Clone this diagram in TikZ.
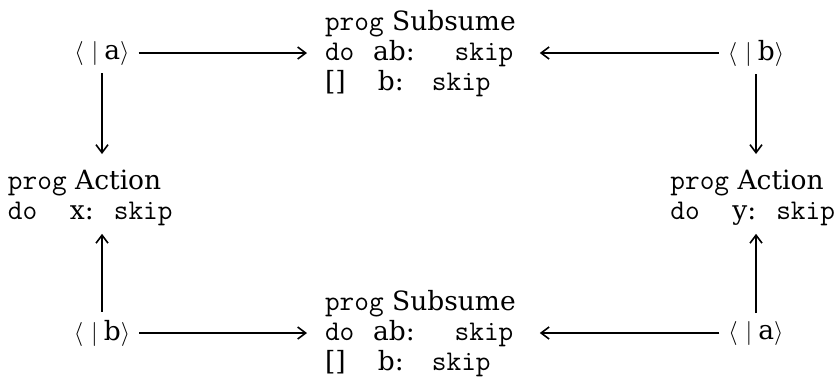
\documentclass[tikz,border=0pt]{standalone}
\usepackage{fontspec}
\setmainfont[Scale=1.06]{DejaVu Serif}
\setmonofont[Scale=1.14]{Latin Modern Mono}
\usetikzlibrary{arrows.meta}
\begin{document}
\begin{tikzpicture}[x=0.5pt,y=-0.5pt,
  txt/.style={inner sep=0pt, outer sep=0pt, font=\fontsize{12.5}{15}\selectfont},
  brk/.style={txt, inner xsep=4.5pt},
  blk/.style={txt, align=left, anchor=north west},
  conn/.style={-{Straight Barb[length=4pt,width=6pt]}, line width=0.8pt},
]
\useasboundingbox (0,0) rectangle (840,376);
% angle-bracket nodes
\node[brk] (tla) at (102,53) {$\langle\hspace{4pt}|\hspace{3pt}$a$\rangle$};
\node[brk] (trb) at (756,53) {$\langle\hspace{4pt}|\hspace{3pt}$b$\rangle$};
\node[brk] (blb) at (102,333) {$\langle\hspace{4pt}|\hspace{3pt}$b$\rangle$};
\node[brk] (bra) at (756,333) {$\langle\hspace{4pt}|\hspace{3pt}$a$\rangle$};
% Subsume blocks
\node[blk] (sub1) at (325,10) {%
  {\ttfamily prog} Subsume\\
  \makebox[24pt][l]{\ttfamily do}ab:\hspace{20pt}{\ttfamily skip}\\
  \makebox[26.5pt][l]{[]}b:\hspace{14pt}{\ttfamily skip}};
\node[blk] (sub2) at (325,290) {%
  {\ttfamily prog} Subsume\\
  \makebox[24pt][l]{\ttfamily do}ab:\hspace{20pt}{\ttfamily skip}\\
  \makebox[26.5pt][l]{[]}b:\hspace{14pt}{\ttfamily skip}};
% Action blocks
\node[txt, align=left, anchor=north west] (act1) at (8,170) {%
  {\ttfamily prog} Action\\
  \makebox[31pt][l]{\ttfamily do}x:\hspace{10pt}{\ttfamily skip}};
\node[txt, align=left, anchor=north east] (act2) at (835,170) {%
  {\ttfamily prog} Action\\
  \makebox[31pt][l]{\ttfamily do}y:\hspace{10pt}{\ttfamily skip}};
% connectors
\draw[conn, shorten >=9pt] (tla) -- (tla -| sub1.west);
\draw[conn, shorten >=12pt] (trb) -- (trb -| sub1.east);
\draw[conn, shorten >=9pt] (blb) -- (blb -| sub2.west);
\draw[conn, shorten >=12pt] (bra) -- (bra -| sub2.east);
\draw[conn, shorten <=4pt, shorten >=8pt] (tla.south) -- (tla.south |- act1.north);
\draw[conn, shorten <=4pt, shorten >=8pt] (trb.south) -- (trb.south |- act2.north);
\draw[conn, shorten <=4pt, shorten >=4pt] (blb.north) -- (blb.north |- act1.south);
\draw[conn, shorten <=4pt, shorten >=4pt] (bra.north) -- (bra.north |- act2.south);
\end{tikzpicture}
\end{document}
